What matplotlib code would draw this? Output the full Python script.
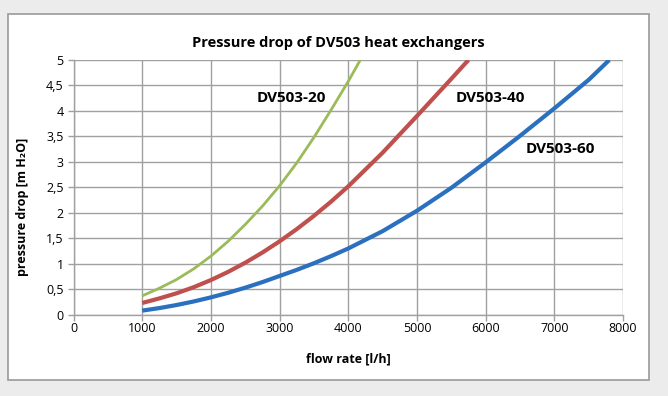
import numpy as np
import matplotlib.pyplot as plt
from matplotlib.patches import Rectangle
from matplotlib.ticker import FuncFormatter, MultipleLocator

# values
flow_20 = [1000, 1250, 1500, 1750, 2000, 2250, 2500, 2750, 3000, 3250,
           3500, 3750, 4000, 4175]
dp_20 = [0.37, 0.52, 0.69, 0.90, 1.15, 1.44, 1.77, 2.13, 2.53, 2.98,
         3.48, 4.02, 4.58, 5.0]

flow_40 = [1000, 1250, 1500, 1750, 2000, 2250, 2500, 2750, 3000, 3250,
           3500, 3750, 4000, 4500, 5000, 5500, 5750]
dp_40 = [0.23, 0.32, 0.42, 0.54, 0.68, 0.84, 1.02, 1.22, 1.44, 1.68,
         1.94, 2.22, 2.52, 3.18, 3.90, 4.63, 5.0]

flow_60 = [1000, 1250, 1500, 1750, 2000, 2250, 2500, 2750, 3000, 3250,
           3500, 3750, 4000, 4500, 5000, 5500, 6000, 6500, 7000, 7500, 7800]
dp_60 = [0.08, 0.13, 0.19, 0.26, 0.34, 0.43, 0.53, 0.64, 0.76, 0.88,
         1.01, 1.15, 1.30, 1.64, 2.04, 2.49, 2.99, 3.51, 4.05, 4.61, 5.0]

names = ["DV503-20", "DV503-40", "DV503-60"]
label_pos = [(3170, 4.26), (6064, 4.26), (7092, 3.26)]

W, H = 668, 396
plt.rcParams['font.family'] = ['Open Sans', 'DejaVu Sans']

fig = plt.figure(figsize=(W / 100, H / 100), dpi=100)
fig.patch.set_facecolor("#ececec")

# white chart frame
fig.patches.append(Rectangle((8 / W, 1 - 380 / H), 641 / W, 366 / H,
                             transform=fig.transFigure, facecolor="white",
                             edgecolor="#9a9a9a", lw=1.2, zorder=-10))

ax = fig.add_axes([73.5 / W, 1 - 314.7 / H, (623 - 73.5) / W, (314.7 - 60) / H])
ax.set_zorder(5)
ax.set_facecolor("white")

ax.plot(flow_20, dp_20, color="#9bbb59", lw=2.0, solid_capstyle="butt")
ax.plot(flow_40, dp_40, color="#c0504d", lw=3.0, solid_capstyle="butt")
ax.plot(flow_60, dp_60, color="#2a70bf", lw=3.0, solid_capstyle="butt")

for name, (x, y) in zip(names, label_pos):
    ax.text(x, y, name, ha="center", va="center", fontsize=11,
            fontweight="bold", color="black")

ax.set_xlim(0, 8000)
ax.set_ylim(0, 5)
ax.xaxis.set_major_locator(MultipleLocator(1000))
ax.yaxis.set_major_locator(MultipleLocator(0.5))
ax.yaxis.set_major_formatter(FuncFormatter(
    lambda v, p: ("%g" % v).replace(".", ",")))

ax.grid(True, color="#a0a0a0", lw=1.0)
ax.set_axisbelow(True)
for s in ["top", "right"]:
    ax.spines[s].set_visible(False)
for s in ["left", "bottom"]:
    ax.spines[s].set_color("#a0a0a0")
    ax.spines[s].set_linewidth(1.0)
ax.tick_params(axis="both", length=4, width=1, color="#a0a0a0",
               labelsize=9, labelcolor="black")
ax.tick_params(axis="x", pad=1.5)
ax.tick_params(axis="y", pad=3)

fig.text(338 / W, 1 - 43 / H, "Pressure drop of DV503 heat exchangers",
         ha="center", va="center", fontsize=10.5, fontweight="bold")
fig.text(348 / W, 1 - 359 / H, "flow rate [l/h]",
         ha="center", va="center", fontsize=9, fontweight="bold")
fig.text(23 / W, 1 - 207 / H, "pressure drop [m H\u2082O]",
         ha="center", va="center", rotation=90, fontsize=9, fontweight="bold")

fig.savefig("out.png", dpi=100, facecolor=fig.get_facecolor())
